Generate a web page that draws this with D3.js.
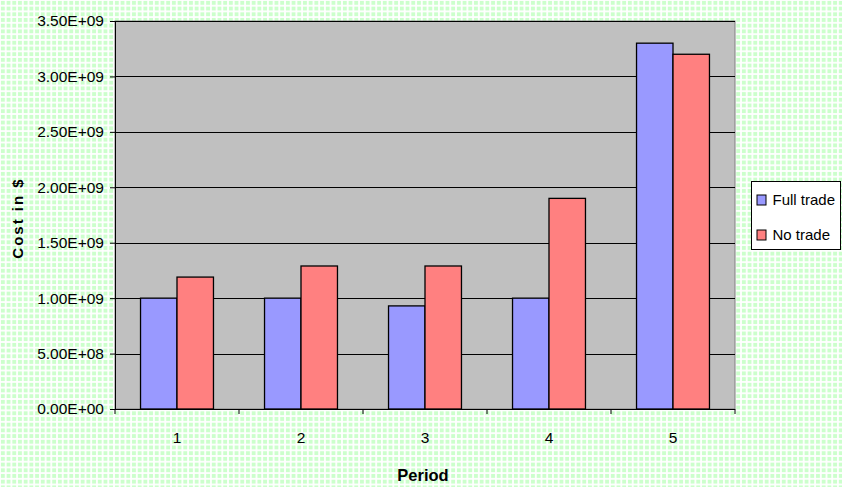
<!DOCTYPE html>
<html>
<head>
<meta charset="utf-8">
<script src="https://cdn.jsdelivr.net/npm/d3@7"></script>
<style>
  html, body { margin: 0; padding: 0; background: #fff; }
  svg { display: block; }
  text { font-family: "Liberation Sans", Arial, sans-serif; }
</style>
</head>
<body>
<svg id="chart" width="842" height="487"></svg>
<script>
// Cost per period, two trading scenarios
const periods = ["1", "2", "3", "4", "5"];
const seriesNames = ["Full trade", "No trade"];
const fullTrade = [1.0e9, 1.0e9, 0.93e9, 1.0e9, 3.3e9];
const noTrade = [1.19e9, 1.29e9, 1.29e9, 1.9e9, 3.2e9];
const yTicks = [0, 0.5e9, 1.0e9, 1.5e9, 2.0e9, 2.5e9, 3.0e9, 3.5e9];
const colors = ["#9999ff", "#ff8080"];

const W = 842, H = 487;
const plot = { left: 115, top: 21, right: 735, bottom: 409 };
const FONT = 15.5;

const svg = d3.select("#chart");

// Checkered green backdrop
const defs = svg.append("defs");
const pat = defs.append("pattern")
  .attr("id", "grid")
  .attr("patternUnits", "userSpaceOnUse")
  .attr("width", 5.7).attr("height", 5.7);
pat.append("rect").attr("width", 5.7).attr("height", 5.7).attr("fill", "#ffffff");
pat.append("rect").attr("x", 0.9).attr("y", 0.9).attr("width", 3.9).attr("height", 3.9).attr("fill", "#ccffcc");
svg.append("rect").attr("width", W).attr("height", H).attr("fill", "url(#grid)");

const x = d3.scaleBand().domain(periods).range([plot.left, plot.right]).paddingInner(0).paddingOuter(0);
const y = d3.scaleLinear().domain([0, 3.5e9]).range([plot.bottom, plot.top]);
const xs = d3.scaleBand().domain(seriesNames).range([0, x.bandwidth()]).paddingInner(0).paddingOuter(0.7);

// Plot area
svg.append("rect")
  .attr("x", plot.left).attr("y", plot.top)
  .attr("width", plot.right - plot.left).attr("height", plot.bottom - plot.top)
  .attr("fill", "#c0c0c0").attr("stroke", "#808080").attr("stroke-width", 1);

// Horizontal gridlines
svg.append("g").selectAll("line")
  .data(yTicks.filter(d => d > 0))
  .join("line")
  .attr("x1", plot.left).attr("x2", plot.right)
  .attr("y1", d => Math.round(y(d)) + 0.5).attr("y2", d => Math.round(y(d)) + 0.5)
  .attr("stroke", "#000").attr("stroke-width", 1);

// Bars
const data = periods.map((p, i) => ({ period: p, values: [fullTrade[i], noTrade[i]] }));
svg.append("g").selectAll("g")
  .data(data)
  .join("g")
  .attr("transform", d => `translate(${x(d.period)},0)`)
  .selectAll("rect")
  .data(d => d.values.map((v, j) => ({ name: seriesNames[j], value: v, color: colors[j] })))
  .join("rect")
  .attr("x", d => xs(d.name))
  .attr("y", d => y(d.value))
  .attr("width", xs.bandwidth())
  .attr("height", d => y(0) - y(d.value))
  .attr("fill", d => d.color)
  .attr("stroke", "#000").attr("stroke-width", 1.3);

// Y axis
const fmt = d => d.toExponential(2).toUpperCase().replace(/E([+-])(\d)$/, "E$10$2");
const yAxis = svg.append("g")
  .attr("transform", `translate(${plot.left},0)`)
  .call(d3.axisLeft(y).tickValues(yTicks).tickSize(5).tickPadding(6).tickFormat(fmt));
yAxis.select(".domain").attr("stroke", "#000");
yAxis.selectAll("text").attr("font-size", FONT).attr("fill", "#000")
  .attr("font-family", "'Liberation Sans', Arial, sans-serif");

// X axis
const xAxis = svg.append("g")
  .attr("transform", `translate(0,${plot.bottom})`)
  .call(d3.axisBottom(x).tickSize(0).tickPadding(23));
xAxis.select(".domain").attr("stroke", "#000").attr("d", `M${plot.left},0.5H${plot.right}`);
xAxis.selectAll("text").attr("font-size", FONT).attr("fill", "#000")
  .attr("font-family", "'Liberation Sans', Arial, sans-serif");
// Tick marks between categories
svg.append("g").selectAll("line")
  .data(d3.range(periods.length + 1))
  .join("line")
  .attr("x1", i => plot.left + i * x.step()).attr("x2", i => plot.left + i * x.step())
  .attr("y1", plot.bottom).attr("y2", plot.bottom + 5)
  .attr("stroke", "#000");

// Axis titles
svg.append("text")
  .attr("x", 423).attr("y", 481)
  .attr("text-anchor", "middle")
  .attr("font-size", 16.5).attr("font-weight", "bold")
  .text("Period");
svg.append("text")
  .attr("transform", `translate(23,218) rotate(-90)`)
  .attr("text-anchor", "middle")
  .attr("font-size", 15).attr("font-weight", "bold")
  .attr("letter-spacing", 2)
  .text("Cost in $");

// Legend
const lg = svg.append("g").attr("transform", "translate(751.5,181.5)");
lg.append("rect").attr("width", 89).attr("height", 68)
  .attr("fill", "#fff").attr("stroke", "#000").attr("stroke-width", 1);
seriesNames.forEach((n, i) => {
  const row = lg.append("g").attr("transform", `translate(5.5,${23.5 + i * 35})`);
  row.append("rect").attr("x", 0).attr("y", -10).attr("width", 9).attr("height", 10)
    .attr("fill", colors[i]).attr("stroke", "#000");
  row.append("text").attr("x", 15.5).attr("y", 0)
    .attr("font-size", 15).text(n);
});
</script>
</body>
</html>
